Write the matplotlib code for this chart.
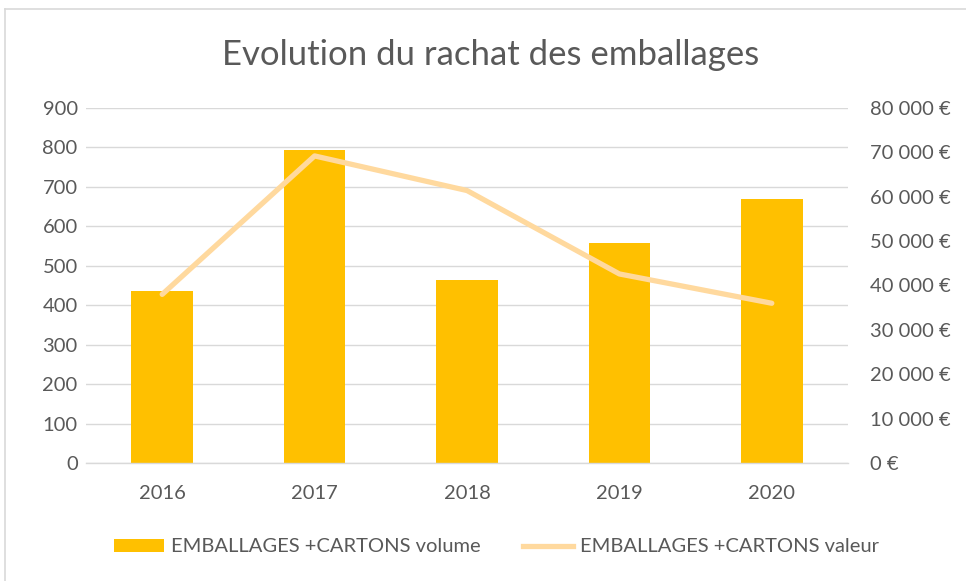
import matplotlib
matplotlib.use("Agg")
import matplotlib.pyplot as plt
from matplotlib.patches import Patch
from matplotlib.lines import Line2D
from matplotlib.ticker import FuncFormatter

# données
annees = ["2016", "2017", "2018", "2019", "2020"]
volume = [436, 793, 465, 557, 670]
valeur = [38000, 69200, 61400, 42600, 36000]

JAUNE = "#FFC000"
ORANGE_CLAIR = "#FFD99E"
GRIS_TEXTE = "#595959"
GRIS_GRILLE = "#D9D9D9"
TAILLE = 14.5

plt.rcParams["font.family"] = ["Lato", "DejaVu Sans"]

fig = plt.figure(figsize=(9.66, 5.81), dpi=100)
ax = fig.add_axes([86 / 966, 1 - 463 / 581, (848 - 86) / 966, (463 - 108) / 581])
ax2 = ax.twinx()

x = list(range(len(annees)))
ax.bar(x, volume, width=0.405, color=JAUNE, zorder=2)
ax2.plot(x, valeur, color=ORANGE_CLAIR, linewidth=3.8, solid_capstyle="round", zorder=3)

ax.set_xlim(-0.5, len(annees) - 0.5)
ax.set_ylim(0, 900)
ax.set_yticks(range(0, 901, 100))
ax2.set_ylim(0, 80000)
ax2.set_yticks(range(0, 80001, 10000))
ax2.yaxis.set_major_formatter(
    FuncFormatter(lambda v, p: (f"{int(v):,}".replace(",", " ") + " €")))

ax.set_xticks(x)
ax.set_xticklabels(annees)

ax.grid(axis="y", color=GRIS_GRILLE, linewidth=1.0, zorder=0)
ax.set_axisbelow(True)
for a in (ax, ax2):
    for s in a.spines.values():
        s.set_visible(False)
ax.spines["bottom"].set_visible(True)
ax.spines["bottom"].set_color(GRIS_GRILLE)
ax.spines["bottom"].set_linewidth(1.0)

ax.tick_params(axis="y", length=0, pad=6, labelsize=TAILLE, labelcolor=GRIS_TEXTE)
ax.tick_params(axis="x", length=0, pad=16, labelsize=TAILLE, labelcolor=GRIS_TEXTE)
ax2.tick_params(axis="y", length=0, pad=16, labelsize=TAILLE, labelcolor=GRIS_TEXTE)

fig.text(0.508, 1 - 55 / 581, "Evolution du rachat des emballages", ha="center",
         va="center", fontsize=25, color=GRIS_TEXTE)

handles = [Patch(facecolor=JAUNE, edgecolor="none"),
           Line2D([0], [0], color=ORANGE_CLAIR, linewidth=3.8)]
fig.legend(handles, ["EMBALLAGES +CARTONS volume", "EMBALLAGES +CARTONS valeur"],
           loc="center", bbox_to_anchor=(0.514, 1 - 547 / 581), ncol=2, frameon=False,
           fontsize=TAILLE, labelcolor=GRIS_TEXTE, handlelength=2.5, handleheight=0.6,
           handletextpad=0.35, columnspacing=2.1)

# cadre du graphique
fig.add_artist(Line2D([5 / 966, 1], [1 - 9 / 581, 1 - 9 / 581], color=GRIS_GRILLE,
                      linewidth=1.2, transform=fig.transFigure))
fig.add_artist(Line2D([5 / 966, 5 / 966], [0, 1 - 9 / 581], color=GRIS_GRILLE,
                      linewidth=1.2, transform=fig.transFigure))

fig.savefig("out.png", dpi=100)
